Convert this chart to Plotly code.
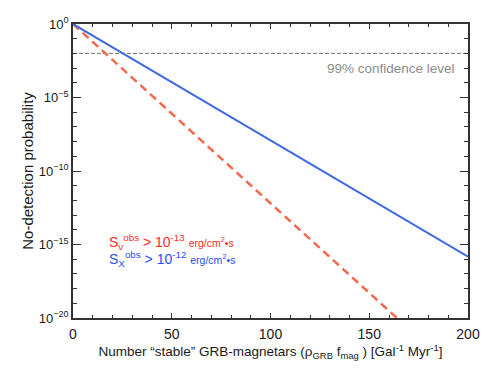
import plotly.graph_objects as go

# Data
n_blue = [0, 200]
p_blue = [1.0, 1.5e-16]
n_red = [0, 164]
p_red = [1.0, 1e-20]
n_conf = [0, 200]
p_conf = [0.01, 0.01]

ytick_vals = [1, 1e-5, 1e-10, 1e-15, 1e-20]
ytick_text = ["10<sup>0</sup>", "10<sup>−5</sup>", "10<sup>−10</sup>", "10<sup>−15</sup>", "10<sup>−20</sup>"]
xtick_vals = [0, 50, 100, 150, 200]

FONT = "Liberation Sans, Arial, sans-serif"

fig = go.Figure()
fig.add_trace(go.Scatter(x=n_conf, y=p_conf, mode="lines",
                         line=dict(color="#6e6e6e", width=1, dash="4px,2px"), showlegend=False))
fig.add_trace(go.Scatter(x=n_red, y=p_red, mode="lines",
                         line=dict(color="#f2694d", width=2.5, dash="8px,5px"), showlegend=False))
fig.add_trace(go.Scatter(x=n_blue, y=p_blue, mode="lines",
                         line=dict(color="#4169e1", width=2), showlegend=False))

fig.add_annotation(x=194.4, y=-3.0, xref="x", yref="y", text="99% confidence level",
                   showarrow=False, xanchor="right", yanchor="middle",
                   font=dict(family=FONT, size=13.5, color="#8c8c8c"))
fig.add_annotation(x=17.2, y=-14.8, xref="x", yref="y",
                   text="S<sub>ν</sub><sup>obs</sup> > 10<sup>-13</sup> <span style='font-size:10.5px'>erg/cm<sup>2</sup>•s</span>",
                   showarrow=False, xanchor="left", yanchor="middle",
                   font=dict(family=FONT, size=14, color="#ff2a2a"))
fig.add_annotation(x=17.2, y=-16.0, xref="x", yref="y",
                   text="S<sub>X</sub><sup>obs</sup> > 10<sup>-12</sup> <span style='font-size:10.5px'>erg/cm<sup>2</sup>•s</span>",
                   showarrow=False, xanchor="left", yanchor="middle",
                   font=dict(family=FONT, size=14, color="#2a4cff"))

# the page body has an 8px default margin; size the figure to compensate
fig.update_layout(
    width=483, height=360,
    margin=dict(l=65, r=23, t=16, b=50),
    plot_bgcolor="white", paper_bgcolor="white",
    font=dict(family=FONT, size=13, color="#1a1a1a"),
    showlegend=False,
)
fig.update_xaxes(range=[0, 200], tickvals=xtick_vals, ticks="inside", ticklen=5,
                 tickcolor="#333", showline=True, linecolor="#333", linewidth=1.5,
                 mirror="ticks", showgrid=False, zeroline=False, automargin=False,
                 ticklabelstandoff=2,
                 minor=dict(dtick=10, ticks="inside", ticklen=3, tickcolor="#333"),
                 title=dict(text="Number “stable” GRB-magnetars (ρ<sub>GRB</sub> f<sub>mag</sub> ) [Gal<sup>-1</sup> Myr<sup>-1</sup>]",
                            font=dict(size=13.5), standoff=2),
                 tickfont=dict(size=14))
fig.update_yaxes(type="log", range=[-20, 0], tickvals=ytick_vals, ticktext=ytick_text,
                 ticks="inside", ticklen=8, tickcolor="#333", showline=True,
                 linecolor="#333", linewidth=1.5, mirror="ticks", showgrid=False,
                 zeroline=False, automargin=False, ticklabelstandoff=0,
                 minor=dict(tickvals=[10.0 ** (-k) for k in range(0, 21)], ticks="inside", ticklen=4, tickcolor="#333"),
                 title=dict(text="No-detection probability", font=dict(size=15), standoff=1),
                 tickfont=dict(size=13))

fig.write_html("out.html")
